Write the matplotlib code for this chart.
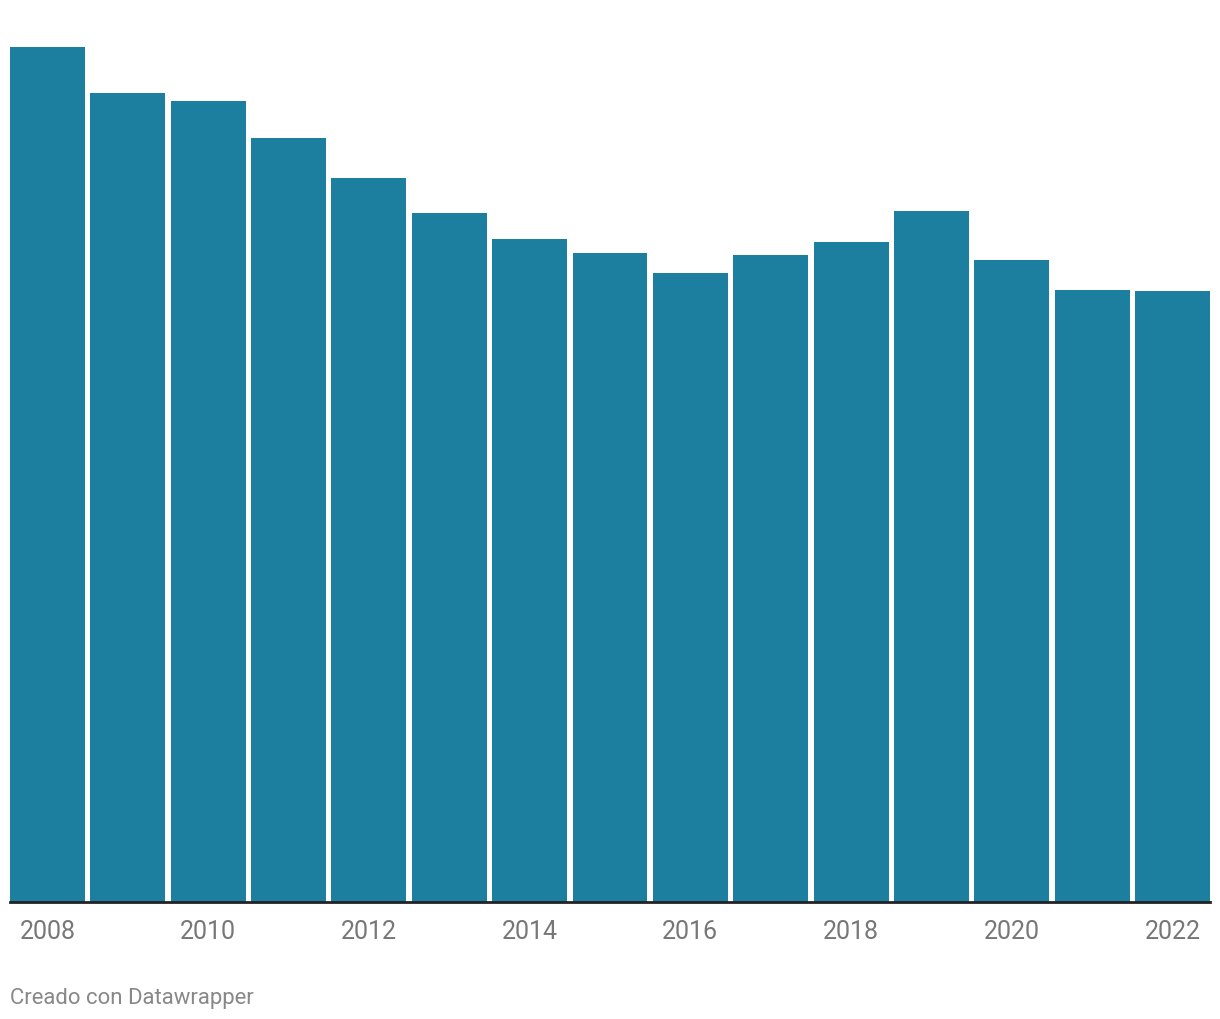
import matplotlib.pyplot as plt
import numpy as np

# values (no axis shown, relative heights)
years = list(range(2008, 2023))
values = [855, 809, 801, 764, 724, 689, 663, 649, 629, 647, 660, 691, 642, 612, 611]
tick_years = [2008, 2010, 2012, 2014, 2016, 2018, 2020, 2022]

bar_color = "#1d7f9f"
plt.rcParams['font.family'] = ['Roboto', 'DejaVu Sans']

fig = plt.figure(figsize=(12.2, 10.2), dpi=100)
W, H = 1220, 1020
ax = fig.add_axes([10 / W, (H - 903) / H, 1200 / W, 855 / H])

bw = 0.933
x = np.arange(len(years))
ax.bar(x, values, width=bw, color=bar_color, linewidth=0)
ax.set_xlim(-bw / 2, len(years) - 1 + bw / 2)
ax.set_ylim(0, max(values))

for s in ["top", "right", "left"]:
    ax.spines[s].set_visible(False)
ax.spines["bottom"].set_color("#222222")
ax.spines["bottom"].set_linewidth(2)
ax.set_yticks([])
ax.set_xticks([years.index(y) for y in tick_years])
ax.set_xticklabels([str(y) for y in tick_years], fontsize=18, color="#777777")
ax.tick_params(axis="x", length=0, pad=12)

fig.text(10 / W, 1 - 999 / H, "Creado con Datawrapper", fontsize=15.9,
         color="#888888", ha="left", va="center")

fig.savefig("out.png", dpi=100)
